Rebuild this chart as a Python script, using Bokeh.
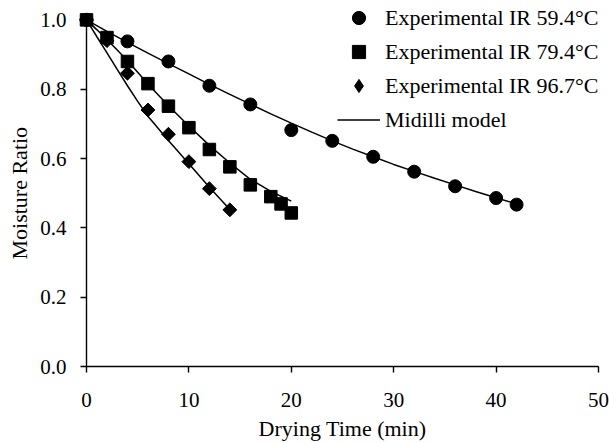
import math
from bokeh.plotting import figure
from bokeh.models import Range1d, FixedTicker, Legend, LegendItem, PrintfTickFormatter, Title
from bokeh.embed import file_html
from bokeh.resources import INLINE

# Experimental data (drying time in min, moisture ratio)
t_594 = [0, 4, 8, 12, 16, 20, 24, 28, 32, 36, 40, 42]
mr_594 = [1.0, 0.938, 0.880, 0.810, 0.756, 0.682, 0.651, 0.605, 0.562, 0.520, 0.486, 0.467]

t_794 = [0, 2, 4, 6, 8, 10, 12, 14, 16, 18, 19, 20]
mr_794 = [1.0, 0.949, 0.880, 0.816, 0.751, 0.689, 0.626, 0.576, 0.524, 0.490, 0.469, 0.443]

t_967 = [0, 2, 4, 6, 8, 10, 12, 14]
mr_967 = [1.0, 0.940, 0.846, 0.740, 0.670, 0.591, 0.513, 0.452]

# Midilli model curves
mt_594 = [0, 2, 4, 6, 8, 10, 12, 14, 16, 18, 20, 22, 24, 26, 28, 30, 32, 34, 36, 38, 40, 42]
mm_594 = [1.0, 0.967, 0.935, 0.904, 0.874, 0.844, 0.814, 0.785, 0.757, 0.729, 0.702, 0.676,
          0.651, 0.627, 0.605, 0.583, 0.563, 0.543, 0.524, 0.505, 0.487, 0.469]

mt_794 = [0, 1, 2, 3, 4, 5, 6, 8, 10, 12, 14, 16, 18, 20]
mm_794 = [1.0, 0.972, 0.943, 0.913, 0.882, 0.849, 0.815, 0.752, 0.694, 0.638, 0.587, 0.540, 0.505, 0.477]

mt_967 = [0, 1, 2, 3, 4, 5, 6, 8, 10, 12, 14]
mm_967 = [1.0, 0.952, 0.905, 0.857, 0.810, 0.765, 0.722, 0.652, 0.585, 0.517, 0.453]

labels = ["Experimental IR 59.4°C", "Experimental IR 79.4°C", "Experimental IR 96.7°C", "Midilli model"]
x_title = "Drying Time (min)"
y_title = "Moisture Ratio"
x_ticks = [0, 10, 20, 30, 40, 50]
y_ticks = [0.0, 0.2, 0.4, 0.6, 0.8, 1.0]

FONT = "Liberation Serif"

# frame spans the full top of the canvas; the axis itself stops at 1.0
p = figure(width=609, height=443, x_range=Range1d(0, 50), y_range=Range1d(0, 1.0559),
           output_backend="svg", toolbar_location=None,
           min_border_left=86, min_border_right=11, min_border_top=0, min_border_bottom=75)
p.outline_line_color = None
p.xgrid.visible = False
p.ygrid.visible = False
p.background_fill_color = "white"
p.border_fill_color = "white"

for ax in (p.xaxis[0], p.yaxis[0]):
    ax.axis_line_color = "black"
    ax.axis_line_width = 1.4
    ax.major_tick_line_color = "black"
    ax.major_tick_line_width = 1.4
    ax.major_tick_out = 6
    ax.major_tick_in = 0
    ax.minor_tick_line_color = None
    ax.major_label_text_font = FONT
    ax.major_label_text_font_size = "21px"
    ax.major_label_text_color = "black"
    ax.axis_label_text_font = FONT
    ax.axis_label_text_font_size = "22px"
    ax.axis_label_text_font_style = "normal"
    ax.axis_label_text_color = "black"

p.yaxis.bounds = (0, 1.0)
p.xaxis.ticker = FixedTicker(ticks=x_ticks)
p.yaxis.ticker = FixedTicker(ticks=y_ticks)
p.yaxis.formatter = PrintfTickFormatter(format="%.1f")
p.xaxis.axis_label = x_title
p.xaxis.major_label_standoff = 20
p.xaxis.axis_label_standoff = 6
p.yaxis.major_label_standoff = 14

# y-axis title as a side title so it can be centred on the 0..1 axis span
ytitle = Title(text=y_title, align="left", offset=107, standoff=10,
               text_font=FONT, text_font_size="22px", text_font_style="normal",
               text_color="black", vertical_align="middle")
p.add_layout(ytitle, "left")

l1 = p.line(mt_594, mm_594, line_color="black", line_width=1.5, level="overlay")
l2 = p.line(mt_794, mm_794, line_color="black", line_width=1.5, level="overlay")
l3 = p.line(mt_967, mm_967, line_color="black", line_width=1.5, level="overlay")

s1 = p.scatter(t_594, mr_594, marker="circle", size=13, fill_color="black", line_color="black", level="overlay")
s2 = p.scatter(t_794, mr_794, marker="square", size=12.5, fill_color="black", line_color="black", level="overlay")
s3 = p.scatter(t_967, mr_967, marker="square", angle=math.pi / 4, size=9.8,
               fill_color="black", line_color="black", level="overlay")
# legend glyph for the diamonds (legend glyphs are never rotated); drawn on the first point only
s3_leg = p.scatter(t_967[:1], mr_967[:1], marker="diamond", size=12, fill_color="black",
                   line_color="black", level="overlay")

legend = Legend(items=[
    LegendItem(label=labels[0], renderers=[s1]),
    LegendItem(label=labels[1], renderers=[s2]),
    LegendItem(label=labels[2], renderers=[s3_leg]),
    LegendItem(label=labels[3], renderers=[l1]),
], location=(251, 230))
legend.border_line_color = None
legend.background_fill_alpha = 0
legend.padding = 0
legend.margin = 0
legend.spacing = 1
legend.glyph_width = 43
legend.glyph_height = 33
legend.label_height = 33
legend.label_standoff = 5
legend.label_text_font = FONT
legend.label_text_font_size = "22px"
legend.label_text_color = "black"
p.add_layout(legend)

open("out.html", "w").write(file_html(p, INLINE))
